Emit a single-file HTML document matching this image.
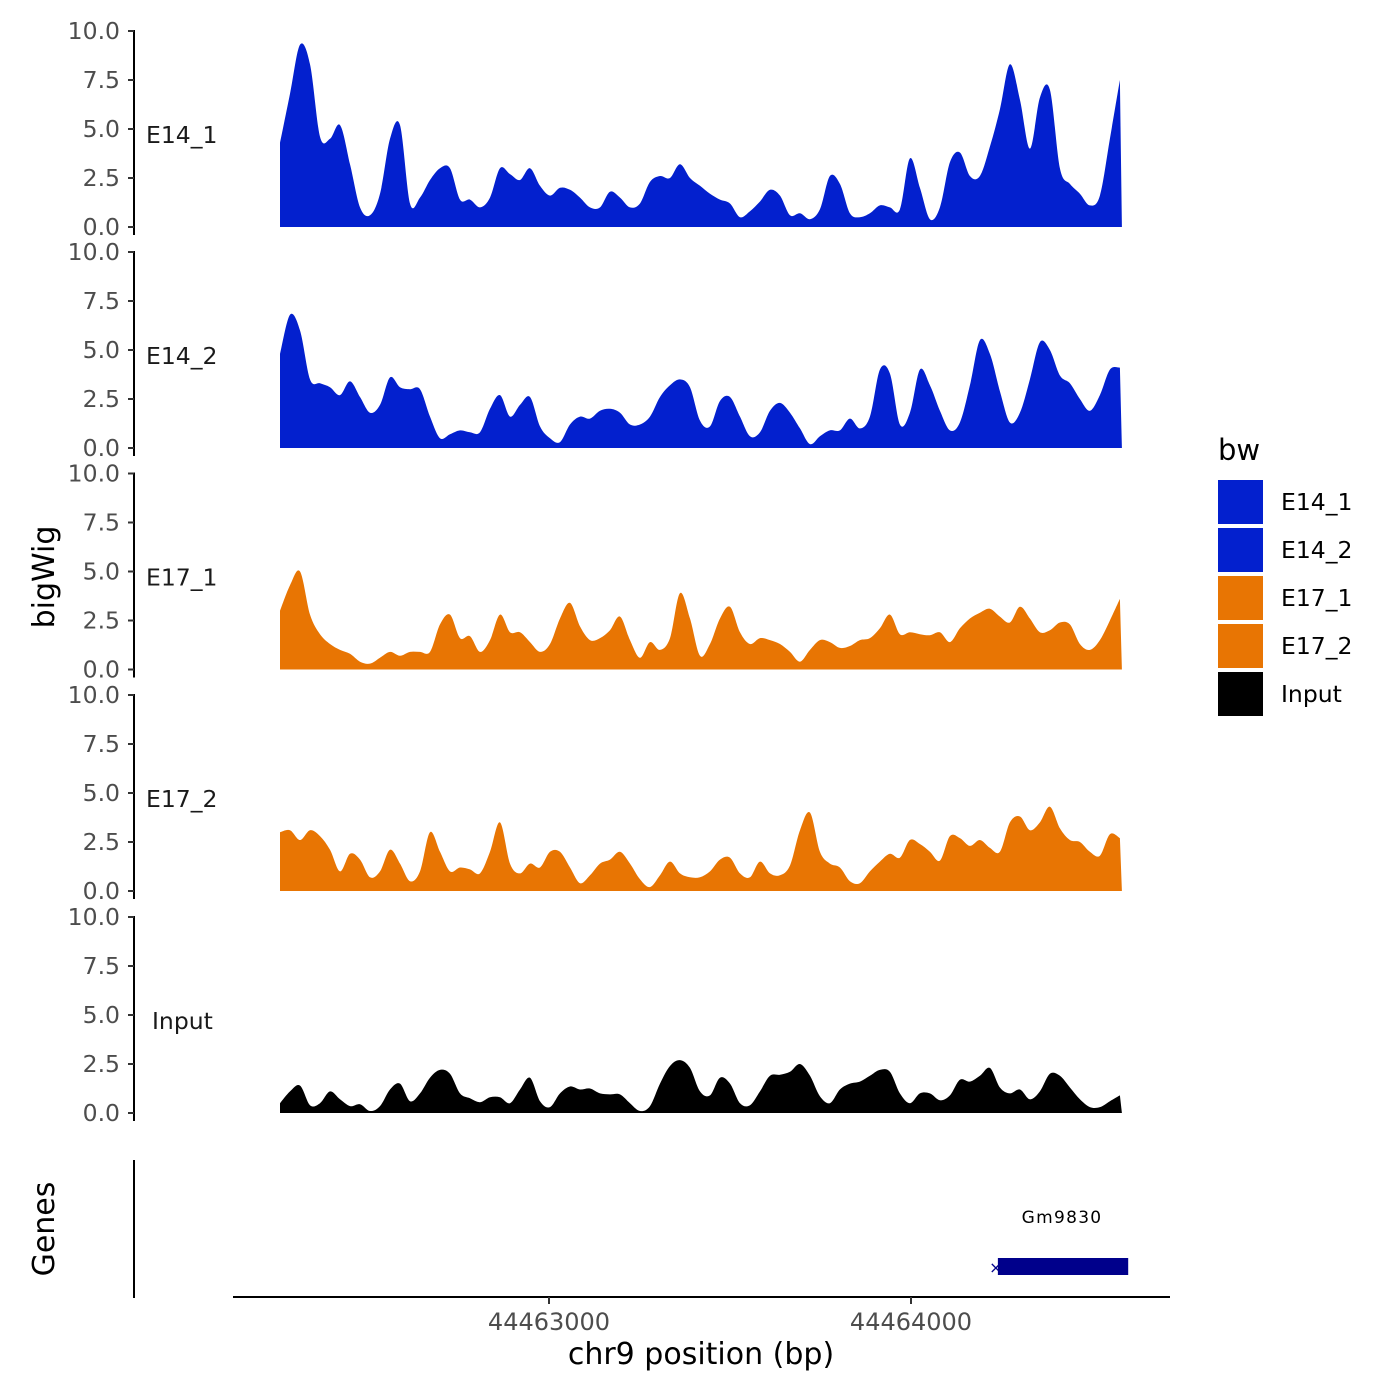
<!DOCTYPE html>
<html><head><meta charset="utf-8"><style>
body{margin:0;background:#fff;}
svg{display:block;font-family:"DejaVu Sans","Liberation Sans",sans-serif;}
</style></head><body>
<svg id="chart" width="1400" height="1400" viewBox="0 0 1400 1400" xmlns="http://www.w3.org/2000/svg"></svg>
<script>
const trackNames = ["E14_1","E14_2","E17_1","E17_2","Input"];
const trackColors = ["#0320CE","#0320CE","#E87503","#E87503","#000000"];
const startBp = 44462257;
const stepBp = 27.62;
const e14_1 = [4.3,6.8,9.3,8.3,4.6,4.5,5.2,3.2,1.0,0.6,1.7,4.5,5.2,1.2,1.5,2.4,3.0,3.0,1.4,1.4,1.0,1.5,3.0,2.7,2.4,3.0,2.1,1.6,2.0,1.9,1.5,1.0,1.0,1.8,1.5,1.0,1.2,2.3,2.6,2.5,3.2,2.5,2.1,1.7,1.4,1.2,0.5,0.8,1.3,1.9,1.6,0.6,0.7,0.4,0.9,2.6,2.2,0.7,0.5,0.7,1.1,1.0,0.9,3.5,2.0,0.4,1.0,3.3,3.8,2.6,2.6,4.1,6.0,8.3,6.5,4.0,6.6,7.0,3.0,2.2,1.7,1.1,1.6,4.5,7.5];
const e14_2 = [4.8,6.8,6.0,3.5,3.3,3.1,2.7,3.4,2.6,1.8,2.2,3.6,3.1,3.0,3.0,1.6,0.5,0.7,0.9,0.8,0.8,2.0,2.7,1.6,2.2,2.6,1.1,0.5,0.3,1.2,1.6,1.5,1.9,2.0,1.8,1.2,1.2,1.6,2.6,3.2,3.5,3.1,1.4,1.1,2.4,2.6,1.6,0.6,0.8,1.9,2.3,1.8,1.0,0.2,0.6,0.9,0.9,1.5,1.0,1.6,4.0,3.8,1.2,1.8,4.0,3.2,1.9,0.9,1.3,3.2,5.5,4.8,2.9,1.3,1.8,3.5,5.4,5.0,3.7,3.3,2.5,1.9,2.7,4.0,4.1];
const e17_1 = [3.0,4.3,5.0,2.8,1.8,1.3,1.0,0.8,0.4,0.3,0.6,0.9,0.7,0.9,0.9,0.9,2.3,2.8,1.6,1.7,0.9,1.5,2.8,1.9,1.9,1.4,0.9,1.3,2.6,3.4,2.2,1.5,1.6,2.0,2.7,1.5,0.6,1.4,1.0,1.6,3.9,2.6,0.7,1.3,2.6,3.2,1.9,1.3,1.6,1.5,1.3,0.9,0.4,1.0,1.5,1.4,1.1,1.2,1.5,1.6,2.1,2.8,1.8,1.9,1.8,1.75,1.9,1.4,2.1,2.6,2.9,3.1,2.7,2.4,3.2,2.6,1.9,2.0,2.4,2.3,1.3,1.0,1.5,2.5,3.6];
const e17_2 = [3.0,3.1,2.6,3.1,2.8,2.1,1.0,1.9,1.6,0.7,1.0,2.1,1.4,0.5,1.0,3.0,2.0,1.0,1.2,1.1,0.9,2.0,3.5,1.4,0.9,1.4,1.2,2.0,2.0,1.2,0.4,0.8,1.4,1.6,2.0,1.4,0.6,0.2,0.8,1.5,0.9,0.7,0.7,1.0,1.6,1.7,0.9,0.7,1.5,0.9,0.8,1.3,3.1,4.0,2.0,1.4,1.2,0.5,0.4,1.0,1.5,1.9,1.7,2.6,2.4,2.0,1.55,2.8,2.7,2.3,2.6,2.2,2.0,3.5,3.8,3.1,3.5,4.3,3.2,2.6,2.5,2.0,1.8,2.9,2.7];
const input = [0.5,1.1,1.4,0.4,0.5,1.1,0.7,0.35,0.45,0.1,0.35,1.2,1.5,0.6,1.0,1.8,2.2,2.0,1.0,0.75,0.55,0.8,0.8,0.5,1.2,1.8,0.6,0.3,1.0,1.35,1.2,1.25,1.0,0.95,0.95,0.5,0.1,0.35,1.5,2.4,2.7,2.3,1.1,0.9,1.8,1.5,0.5,0.4,1.1,1.9,1.95,2.1,2.5,1.9,0.85,0.5,1.2,1.5,1.6,1.9,2.2,2.1,1.0,0.5,1.0,1.0,0.65,0.9,1.7,1.6,1.9,2.3,1.3,1.0,1.2,0.7,1.1,2.0,1.9,1.3,0.7,0.3,0.3,0.6,0.9];
const seriesList = [e14_1,e14_2,e17_1,e17_2,input];
const yTicks = [0,2.5,5,7.5,10];
const yTickLabels = ["0.0","2.5","5.0","7.5","10.0"];
const xTicks = [44463000,44464000];
const xTickLabels = ["44463000","44464000"];
const geneName = ["Gm9830"];
const geneStart = [44464240];
const geneEnd = [44464600];

const NS="http://www.w3.org/2000/svg";
const svg=document.getElementById('chart');
function mk(tag,attrs,parent){const e=document.createElementNS(NS,tag);for(const k in attrs)e.setAttribute(k,attrs[k]);(parent||svg).appendChild(e);return e;}
function xScale(bp){return 549+(bp-44463000)*0.362;}
const panelZero=[227,448,669.5,891,1113];
const pxPerUnit=19.6;
function yScale(p,v){return panelZero[p]-v*pxPerUnit;}

for(let p=0;p<5;p++){
  const g=mk('g',{});
  
  
  const vals=seriesList[p];
  const pts=vals.map((v,i)=>[xScale(startBp+i*stepBp),Math.min(yScale(p,v),yScale(p,0))]);
  let d='M'+pts[0][0].toFixed(1)+','+yScale(p,0)+' L'+pts[0][0].toFixed(1)+','+pts[0][1].toFixed(1);
  for(let i=0;i<pts.length-1;i++){
    const p0=pts[Math.max(0,i-1)],p1=pts[i],p2=pts[i+1],p3=pts[Math.min(pts.length-1,i+2)];
    const c1x=p1[0]+(p2[0]-p0[0])/6,c1y=Math.min(p1[1]+(p2[1]-p0[1])/6,yScale(p,0));
    const c2x=p2[0]-(p3[0]-p1[0])/6,c2y=Math.min(p2[1]-(p3[1]-p1[1])/6,yScale(p,0));
    d+=' C'+c1x.toFixed(1)+','+c1y.toFixed(1)+' '+c2x.toFixed(1)+','+c2y.toFixed(1)+' '+p2[0].toFixed(1)+','+p2[1].toFixed(1);
  }
  const last=pts[pts.length-1];
  d+=' L'+(last[0]+2).toFixed(1)+','+yScale(p,0)+' Z';
  const area=mk('path',{d:d,fill:trackColors[p]},g);
  
  
  const ax=mk('line',{x1:134,x2:134,y1:yScale(p,10)-1,y2:yScale(p,0)+8,stroke:'#000','stroke-width':2},g);
  
  
  yTicks.forEach((t,i)=>{
    const y=yScale(p,t);
    const tk=mk('line',{x1:128,x2:134,y1:y,y2:y,stroke:'#333','stroke-width':2},g);
    
    
    const tl=mk('text',{x:120,y:y+8,'text-anchor':'end','font-size':23.5,fill:'#4d4d4d'},g);
    tl.textContent=yTickLabels[i];
    
    
  });
  const lab=mk('text',{x:p===4?152:146,y:yScale(p,4.7)+8,'font-size':23.5,fill:'#1a1a1a'},g);
  lab.textContent=trackNames[p];
  
  
}
const yt=mk('text',{x:0,y:0,transform:'translate(54,577) rotate(-90)','text-anchor':'middle','font-size':30,fill:'#000'});
yt.textContent='bigWig';


const ga=mk('line',{x1:134,x2:134,y1:1160,y2:1298,stroke:'#000','stroke-width':2});


const gt=mk('text',{x:0,y:0,transform:'translate(54,1229) rotate(-90)','text-anchor':'middle','font-size':30,fill:'#000'});
gt.textContent='Genes';


geneName.forEach((n,i)=>{
  const x1=xScale(geneStart[i]),x2=xScale(geneEnd[i]);
  const r=mk('rect',{x:x1,y:1258,width:x2-x1,height:17,fill:'#00008B'});
  
  
  const ar=mk('text',{x:x1-2,y:1273,'text-anchor':'middle','font-size':16,fill:'#00008B'});
  ar.textContent='×';
  
  
  const t=mk('text',{x:(x1+x2)/2-1,y:1223,'text-anchor':'middle','font-size':17,'letter-spacing':'1.3',fill:'#000'});
  t.textContent=n;
  
  
});
const xa=mk('line',{x1:233,x2:1170,y1:1297,y2:1297,stroke:'#000','stroke-width':2});


xTicks.forEach((t,i)=>{
  const x=xScale(t);
  const tk=mk('line',{x1:x,x2:x,y1:1297,y2:1304,stroke:'#333','stroke-width':2});
  
  
  const tl=mk('text',{x:x,y:1330,'text-anchor':'middle','font-size':24,fill:'#4d4d4d'});
  tl.textContent=xTickLabels[i];
  
  
});
const xt=mk('text',{x:701,y:1364,'text-anchor':'middle','font-size':30,fill:'#000'});
xt.textContent='chr9 position (bp)';


const lg=mk('g',{});


const lt=mk('text',{x:1218,y:460,'font-size':29,fill:'#000'},lg);
lt.textContent='bw';


trackNames.forEach((n,i)=>{
  const y=480+i*48;
  const k=mk('rect',{x:1218,y:y,width:45,height:44,fill:trackColors[i]},lg);
  
  
  const t=mk('text',{x:1281,y:y+30,'font-size':23.5,fill:'#000'},lg);
  t.textContent=n;
  
  
});
</script>
</body></html>
